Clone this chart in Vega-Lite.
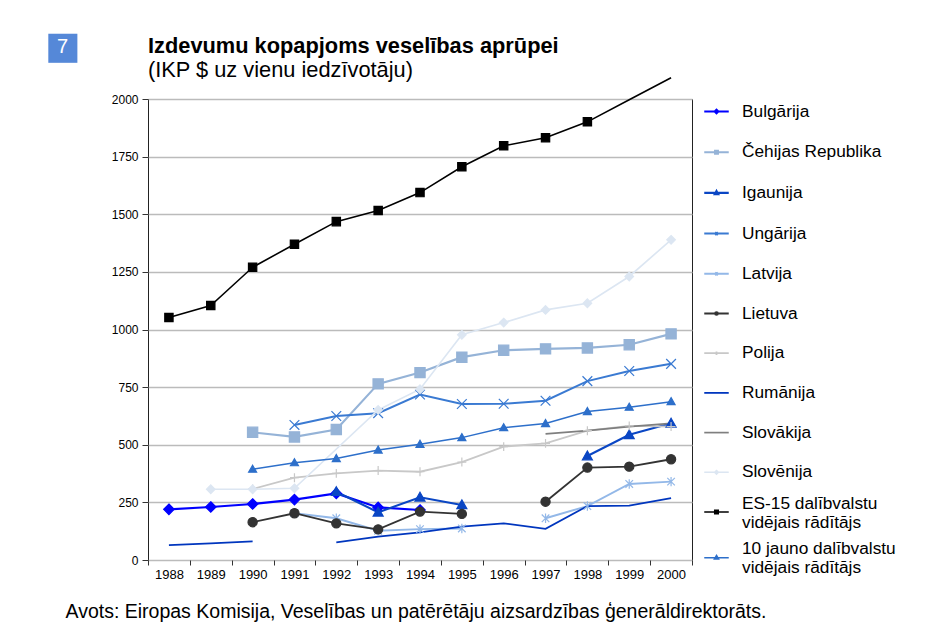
{
  "$schema": "https://vega.github.io/schema/vega-lite/v6.json",
  "width": 544,
  "height": 461,
  "autosize": {"type": "none"},
  "padding": {"left": 148, "top": 99, "right": 253, "bottom": 83},
  "background": "white",
  "config": {
    "view": {"stroke": "#222222", "strokeWidth": 1},
    "font": "Liberation Sans"
  },
  "title": {
    "text": "Izdevumu kopapjoms veselības aprūpei",
    "subtitle": "(IKP $ uz vienu iedzīvotāju)",
    "anchor": "start",
    "frame": "group",
    "font": "Liberation Sans",
    "fontSize": 21.8,
    "fontWeight": "bold",
    "color": "#000000",
    "subtitleFont": "Liberation Sans",
    "subtitleFontSize": 21.8,
    "subtitleColor": "#000000",
    "subtitlePadding": 2,
    "offset": 14,
    "dy": 79
  },
  "data": {
    "values": [
      {"s": "Bulgārija", "year": 1988, "v": 220},
      {"s": "Bulgārija", "year": 1989, "v": 230},
      {"s": "Bulgārija", "year": 1990, "v": 243},
      {"s": "Bulgārija", "year": 1991, "v": 262},
      {"s": "Bulgārija", "year": 1992, "v": 289},
      {"s": "Bulgārija", "year": 1993, "v": 228},
      {"s": "Bulgārija", "year": 1994, "v": 217},
      {"s": "Čehijas Republika", "year": 1990, "v": 554},
      {"s": "Čehijas Republika", "year": 1991, "v": 534},
      {"s": "Čehijas Republika", "year": 1992, "v": 566},
      {"s": "Čehijas Republika", "year": 1993, "v": 764},
      {"s": "Čehijas Republika", "year": 1994, "v": 813},
      {"s": "Čehijas Republika", "year": 1995, "v": 880},
      {"s": "Čehijas Republika", "year": 1996, "v": 910},
      {"s": "Čehijas Republika", "year": 1997, "v": 916},
      {"s": "Čehijas Republika", "year": 1998, "v": 920},
      {"s": "Čehijas Republika", "year": 1999, "v": 934},
      {"s": "Čehijas Republika", "year": 2000, "v": 981},
      {"s": "Igaunija", "year": 1992, "v": 296},
      {"s": "Igaunija", "year": 1993, "v": 207},
      {"s": "Igaunija", "year": 1994, "v": 272},
      {"s": "Igaunija", "year": 1995, "v": 239},
      {"s": "Igaunija", "year": 1996, "v": null},
      {"s": "Igaunija", "year": 1998, "v": 451},
      {"s": "Igaunija", "year": 1999, "v": 543},
      {"s": "Igaunija", "year": 2000, "v": 593},
      {"s": "Ungārija", "year": 1991, "v": 586},
      {"s": "Ungārija", "year": 1992, "v": 625},
      {"s": "Ungārija", "year": 1993, "v": 637},
      {"s": "Ungārija", "year": 1994, "v": 718},
      {"s": "Ungārija", "year": 1995, "v": 677},
      {"s": "Ungārija", "year": 1996, "v": 678},
      {"s": "Ungārija", "year": 1997, "v": 691},
      {"s": "Ungārija", "year": 1998, "v": 776},
      {"s": "Ungārija", "year": 1999, "v": 820},
      {"s": "Ungārija", "year": 2000, "v": 851},
      {"s": "Latvija", "year": 1991, "v": 203},
      {"s": "Latvija", "year": 1992, "v": 181},
      {"s": "Latvija", "year": 1993, "v": 127},
      {"s": "Latvija", "year": 1994, "v": 134},
      {"s": "Latvija", "year": 1995, "v": 137},
      {"s": "Latvija", "year": 1996, "v": null},
      {"s": "Latvija", "year": 1997, "v": 181},
      {"s": "Latvija", "year": 1998, "v": 234},
      {"s": "Latvija", "year": 1999, "v": 330},
      {"s": "Latvija", "year": 2000, "v": 340},
      {"s": "Lietuva", "year": 1990, "v": 164},
      {"s": "Lietuva", "year": 1991, "v": 203},
      {"s": "Lietuva", "year": 1992, "v": 159},
      {"s": "Lietuva", "year": 1993, "v": 133},
      {"s": "Lietuva", "year": 1994, "v": 210},
      {"s": "Lietuva", "year": 1995, "v": 200},
      {"s": "Lietuva", "year": 1996, "v": null},
      {"s": "Lietuva", "year": 1997, "v": 253},
      {"s": "Lietuva", "year": 1998, "v": 401},
      {"s": "Lietuva", "year": 1999, "v": 405},
      {"s": "Lietuva", "year": 2000, "v": 437},
      {"s": "Polija", "year": 1990, "v": 308},
      {"s": "Polija", "year": 1991, "v": 357},
      {"s": "Polija", "year": 1992, "v": 376},
      {"s": "Polija", "year": 1993, "v": 388},
      {"s": "Polija", "year": 1994, "v": 383},
      {"s": "Polija", "year": 1995, "v": 425},
      {"s": "Polija", "year": 1996, "v": 492},
      {"s": "Polija", "year": 1997, "v": 506},
      {"s": "Polija", "year": 1998, "v": 561},
      {"s": "Polija", "year": 1999, "v": 582},
      {"s": "Polija", "year": 2000, "v": 579},
      {"s": "Rumānija", "year": 1988, "v": 65},
      {"s": "Rumānija", "year": 1989, "v": 72},
      {"s": "Rumānija", "year": 1990, "v": 81},
      {"s": "Rumānija", "year": 1991, "v": null},
      {"s": "Rumānija", "year": 1992, "v": 76},
      {"s": "Rumānija", "year": 1993, "v": 101},
      {"s": "Rumānija", "year": 1994, "v": 120},
      {"s": "Rumānija", "year": 1995, "v": 145},
      {"s": "Rumānija", "year": 1996, "v": 159},
      {"s": "Rumānija", "year": 1997, "v": 135},
      {"s": "Rumānija", "year": 1998, "v": 234},
      {"s": "Rumānija", "year": 1999, "v": 236},
      {"s": "Rumānija", "year": 2000, "v": 268},
      {"s": "Slovākija", "year": 1997, "v": 547},
      {"s": "Slovākija", "year": 1998, "v": 561},
      {"s": "Slovākija", "year": 1999, "v": 579},
      {"s": "Slovākija", "year": 2000, "v": 593},
      {"s": "Slovēnija", "year": 1989, "v": 307},
      {"s": "Slovēnija", "year": 1990, "v": 307},
      {"s": "Slovēnija", "year": 1991, "v": 311},
      {"s": "Slovēnija", "year": 1993, "v": 651},
      {"s": "Slovēnija", "year": 1994, "v": 741},
      {"s": "Slovēnija", "year": 1995, "v": 977},
      {"s": "Slovēnija", "year": 1996, "v": 1030},
      {"s": "Slovēnija", "year": 1997, "v": 1085},
      {"s": "Slovēnija", "year": 1998, "v": 1114},
      {"s": "Slovēnija", "year": 1999, "v": 1230},
      {"s": "Slovēnija", "year": 2000, "v": 1389},
      {"s": "ES-15 dalībvalstu vidējais rādītājs", "year": 1988, "v": 1052},
      {"s": "ES-15 dalībvalstu vidējais rādītājs", "year": 1989, "v": 1104},
      {"s": "ES-15 dalībvalstu vidējais rādītājs", "year": 1990, "v": 1270},
      {"s": "ES-15 dalībvalstu vidējais rādītājs", "year": 1991, "v": 1370},
      {"s": "ES-15 dalībvalstu vidējais rādītājs", "year": 1992, "v": 1468},
      {"s": "ES-15 dalībvalstu vidējais rādītājs", "year": 1993, "v": 1516},
      {"s": "ES-15 dalībvalstu vidējais rādītājs", "year": 1994, "v": 1594},
      {"s": "ES-15 dalībvalstu vidējais rādītājs", "year": 1995, "v": 1706},
      {"s": "ES-15 dalībvalstu vidējais rādītājs", "year": 1996, "v": 1797},
      {"s": "ES-15 dalībvalstu vidējais rādītājs", "year": 1997, "v": 1832},
      {"s": "ES-15 dalībvalstu vidējais rādītājs", "year": 1998, "v": 1901},
      {"s": "ES-15 dalībvalstu vidējais rādītājs", "year": 1999, "v": 1997},
      {"s": "ES-15 dalībvalstu vidējais rādītājs", "year": 2000, "v": 2092},
      {"s": "10 jauno dalībvalstu vidējais rādītājs", "year": 1990, "v": 394},
      {"s": "10 jauno dalībvalstu vidējais rādītājs", "year": 1991, "v": 422},
      {"s": "10 jauno dalībvalstu vidējais rādītājs", "year": 1992, "v": 440},
      {"s": "10 jauno dalībvalstu vidējais rādītājs", "year": 1993, "v": 477},
      {"s": "10 jauno dalībvalstu vidējais rādītājs", "year": 1994, "v": 502},
      {"s": "10 jauno dalībvalstu vidējais rādītājs", "year": 1995, "v": 531},
      {"s": "10 jauno dalībvalstu vidējais rādītājs", "year": 1996, "v": 574},
      {"s": "10 jauno dalībvalstu vidējais rādītājs", "year": 1997, "v": 592},
      {"s": "10 jauno dalībvalstu vidējais rādītājs", "year": 1998, "v": 644},
      {"s": "10 jauno dalībvalstu vidējais rādītājs", "year": 1999, "v": 663},
      {"s": "10 jauno dalībvalstu vidējais rādītājs", "year": 2000, "v": 687}
    ]
  },
  "resolve": {"scale": {"y": "independent"}},
  "layer": [
    {
      "mark": {"type": "line", "invalid": "break-paths-filter-domains", "clip": false},
      "encoding": {
        "x": {
          "field": "year", "type": "ordinal",
          "scale": {"type": "band", "paddingInner": 0, "paddingOuter": 0},
          "axis": {
            "domain": false, "tickBand": "extent", "tickSize": 5, "tickColor": "#333333",
            "labelAngle": 0, "labelFont": "Liberation Sans", "labelFontSize": 13, "labelColor": "#000000", "labelPadding": 3,
            "title": "Avots: Eiropas Komisija, Veselības un patērētāju aizsardzības ģenerāldirektorāts.",
            "titleFont": "Liberation Sans", "titleFontSize": 19.5, "titleFontWeight": "normal", "titleColor": "#000000",
            "titleX": -83, "titleY": 51, "titleAlign": "left", "titleBaseline": "middle", "titleAnchor": null
          }
        },
        "y": {
          "field": "v", "type": "quantitative",
          "scale": {"domain": [0, 2000], "nice": false, "zero": true},
          "axis": {
            "values": [0, 250, 500, 750, 1000, 1250, 1500, 1750, 2000], "format": "d",
            "grid": true, "gridColor": "#BBBBBB", "gridWidth": 1.5,
            "domain": false, "tickSize": 6, "tickColor": "#333333",
            "labelFont": "Liberation Sans", "labelFontSize": 12, "labelColor": "#000000", "labelPadding": 4,
            "title": "■", "titleFont": "Liberation Sans", "titleFontSize": 60, "titleFontWeight": "normal",
            "titleColor": "#5588D8", "titleAngle": 0, "titleX": -86, "titleY": -52,
            "titleAlign": "center", "titleBaseline": "middle"
          }
        },
        "color": {
          "field": "s", "type": "nominal",
          "scale": {
            "domain": ["Bulgārija", "Čehijas Republika", "Igaunija", "Ungārija", "Latvija", "Lietuva", "Polija", "Rumānija", "Slovākija", "Slovēnija", "ES-15 dalībvalstu vidējais rādītājs", "10 jauno dalībvalstu vidējais rādītājs"],
            "range": ["#0000FF", "#95B3D7", "#0A46C4", "#3A7AD2", "#93B8E8", "#333333", "#C8C8C8", "#0036BE", "#7F7F7F", "#DCE6F2", "#000000", "#2D6FCA"]
          },
          "legend": {
            "orient": "none", "legendX": 549.5, "legendY": -6.5,
            "title": null, "padding": 0,
            "labelFont": "Liberation Sans", "labelFontSize": 17.3, "labelColor": "#000000", "labelLimit": 240, "labelLineHeight": 17,
            "labelOffset": 6.5, "rowPadding": 7.7, "symbolSize": 1225, "symbolStrokeWidth": 2,
            "labelExpr": "datum.label == 'ES-15 dalībvalstu vidējais rādītājs' ? ['ES-15 dalībvalstu', 'vidējais rādītājs'] : datum.label == '10 jauno dalībvalstu vidējais rādītājs' ? ['10 jauno dalībvalstu', 'vidējais rādītājs'] : datum.label",
            "encode": {
              "labels": {
                "update": {
                  "dy": {"signal": "datum.value == 'ES-15 dalībvalstu vidējais rādītājs' || datum.value == '10 jauno dalībvalstu vidējais rādītājs' ? -8.5 : 0"}
                }
              },
              "symbols": {
                "update": {
                  "shape": {"signal": "(datum.value == 'Bulgārija' || datum.value == 'Slovēnija' ? 'M-0.7,0H0.7M0,-0.1L0.1,0L0,0.1L-0.1,0Z' : datum.value == 'Čehijas Republika' ? 'M-0.7,0H0.7M-0.08,-0.08H0.08V0.08H-0.08Z' : datum.value == 'Igaunija' ? 'M-0.7,0H0.7M0,-0.11L0.1,0.07L-0.1,0.07Z' : datum.value == 'Ungārija' ? 'M-0.7,0H0.7M-0.08,-0.08L0.08,0.08M-0.08,0.08L0.08,-0.08' : datum.value == 'Latvija' ? 'M-0.7,0H0.7M-0.08,-0.08L0.08,0.08M-0.08,0.08L0.08,-0.08M0,-0.1V0.1' : datum.value == 'Lietuva' ? 'M-0.7,0H0.7M0.08,0A0.08,0.08,0,1,1,-0.08,0A0.08,0.08,0,1,1,0.08,0Z' : datum.value == 'Polija' ? 'M-0.7,0H0.7M0,-0.1V0.1' : datum.value == 'ES-15 dalībvalstu vidējais rādītājs' ? 'M-0.7,0H0.7M-0.1,-0.1H0.1V0.1H-0.1Z' : datum.value == '10 jauno dalībvalstu vidējais rādītājs' ? 'M-0.7,0H0.7M0,-0.13L0.12,0.08L-0.12,0.08Z' : 'M-0.7,0H0.7') + 'M0,-0.54L0,-0.54M0,0.54L0,0.54'"},
                  "fill": {"scale": "color", "field": "value"},
                  "stroke": {"scale": "color", "field": "value"},
                  "strokeWidth": {"value": 2},
                  "opacity": {"value": 1}
                }
              }
            }
          }
        },
        "strokeWidth": {
          "field": "s", "type": "nominal",
          "scale": {
            "domain": ["Bulgārija", "Čehijas Republika", "Igaunija", "Ungārija", "Latvija", "Lietuva", "Polija", "Rumānija", "Slovākija", "Slovēnija", "ES-15 dalībvalstu vidējais rādītājs", "10 jauno dalībvalstu vidējais rādītājs"],
            "range": [2.2, 1.5, 1.5, 1.5, 2, 2, 1.2, 2, 2, 1.3, 1, 2]
          },
          "legend": null
        }
      }
    },
    {
      "transform": [
        {"filter": "datum.s != 'Rumānija' && datum.s != 'Slovākija' && !(datum.s == 'ES-15 dalībvalstu vidējais rādītājs' && datum.year >= 1999)"}
      ],
      "mark": {"type": "point", "filled": true, "opacity": 1, "strokeWidth": 1.2},
      "encoding": {
        "x": {"field": "year", "type": "ordinal"},
        "y": {
          "field": "v", "type": "quantitative",
          "scale": {"domain": [0, 2000], "nice": false, "zero": true},
          "axis": {
            "orient": "right", "domain": false, "ticks": false, "labels": false, "grid": false,
            "title": "7", "titleFont": "Liberation Sans", "titleFontSize": 20, "titleFontWeight": "normal",
            "titleColor": "#FFFFFF", "titleAngle": 0, "titleX": -630, "titleY": -53,
            "titleAlign": "center", "titleBaseline": "middle"
          }
        },
        "color": {"field": "s", "type": "nominal"},
        "stroke": {
          "field": "s", "type": "nominal",
          "scale": {
            "domain": ["Bulgārija", "Čehijas Republika", "Igaunija", "Ungārija", "Latvija", "Lietuva", "Polija", "Rumānija", "Slovākija", "Slovēnija", "ES-15 dalībvalstu vidējais rādītājs", "10 jauno dalībvalstu vidējais rādītājs"],
            "range": ["#0000FF", "#95B3D7", "#0A46C4", "#3A7AD2", "#93B8E8", "#333333", "#C8C8C8", "#0036BE", "#7F7F7F", "#DCE6F2", "#000000", "#2D6FCA"]
          },
          "legend": null
        },
        "shape": {
          "field": "s", "type": "nominal",
          "scale": {
            "domain": ["Bulgārija", "Čehijas Republika", "Igaunija", "Ungārija", "Latvija", "Lietuva", "Polija", "Slovēnija", "ES-15 dalībvalstu vidējais rādītājs", "10 jauno dalībvalstu vidējais rādītājs"],
            "range": [
              "M0,-1L1,0L0,1L-1,0Z",
              "M-1,-1H1V1H-1Z",
              "M0,-1L1,0.75L-1,0.75Z",
              "M-1,-1L1,1M-1,1L1,-1",
              "M-0.8,-0.8L0.8,0.8M-0.8,0.8L0.8,-0.8M0,-1V1",
              "M1,0A1,1,0,1,1,-1,0A1,1,0,1,1,1,0Z",
              "M-1,0H1M0,-1V1",
              "M0,-1L1,0L0,1L-1,0Z",
              "M-1,-1H1V1H-1Z",
              "M0,-1L1,0.75L-1,0.75Z"
            ]
          },
          "legend": null
        },
        "size": {
          "field": "s", "type": "nominal",
          "scale": {
            "domain": ["Bulgārija", "Čehijas Republika", "Igaunija", "Ungārija", "Latvija", "Lietuva", "Polija", "Slovēnija", "ES-15 dalībvalstu vidējais rādītājs", "10 jauno dalībvalstu vidējais rādītājs"],
            "range": [110, 64, 90, 90, 110, 110, 72, 90, 81, 200]
          },
          "legend": null
        }
      }
    }
  ]
}
